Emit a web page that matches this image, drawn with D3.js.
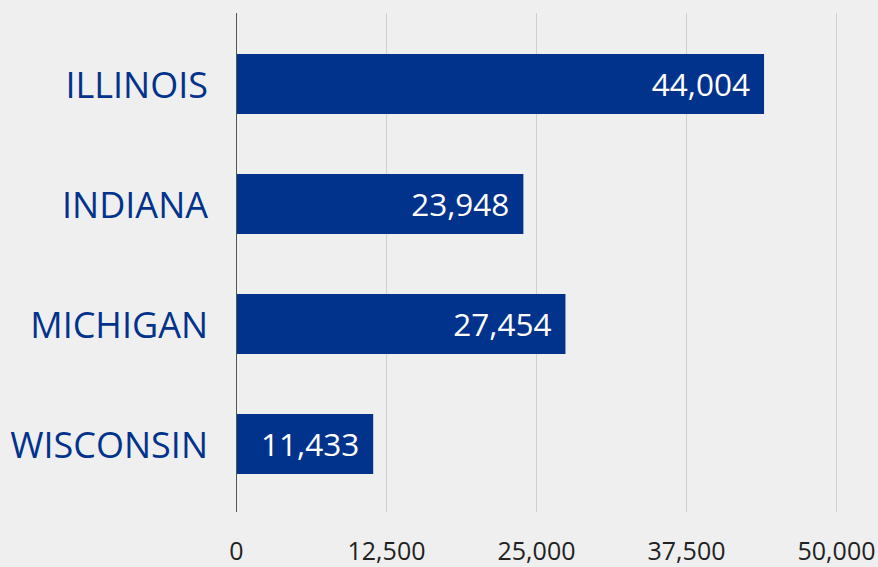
<!DOCTYPE html>
<html>
<head>
<meta charset="utf-8">
<script src="https://cdn.jsdelivr.net/npm/d3@7"></script>
<style>
  html, body { margin: 0; padding: 0; background: #efefef; }
  svg { display: block; }
</style>
</head>
<body>
<div id="chart"></div>
<script>
// data
var states = ["ILLINOIS", "INDIANA", "MICHIGAN", "WISCONSIN"];
var counts = [44004, 23948, 27454, 11433];
var tickValues = [0, 12500, 25000, 37500, 50000];

var W = 878, H = 567;
var blue = "#02338c";
var font = "'Open Sans', 'Noto Sans', sans-serif";

var svg = d3.select("#chart")
  .append("svg")
  .attr("width", W)
  .attr("height", H);

svg.append("rect")
  .attr("width", W)
  .attr("height", H)
  .attr("fill", "#efefef");

var x = d3.scaleLinear().domain([0, 50000]).range([236, 836]);
var y = d3.scaleBand()
  .domain(states)
  .range([24, 504])
  .paddingInner(0.5)
  .paddingOuter(0.25);

// gridlines
svg.append("g")
  .selectAll("line")
  .data(tickValues.slice(1))
  .enter()
  .append("line")
  .attr("x1", function (d) { return x(d) + 0.5; })
  .attr("x2", function (d) { return x(d) + 0.5; })
  .attr("y1", 13)
  .attr("y2", 512)
  .attr("stroke", "#cfcfcf")
  .attr("stroke-width", 1);

// axis line
svg.append("line")
  .attr("x1", x(0) + 0.5)
  .attr("x2", x(0) + 0.5)
  .attr("y1", 13)
  .attr("y2", 512)
  .attr("stroke", "#555")
  .attr("stroke-width", 1);

// x tick labels
var xAxis = svg.append("g")
  .attr("transform", "translate(0,560)")
  .call(d3.axisBottom(x).tickValues(tickValues).tickFormat(d3.format(",")).tickSize(0));
xAxis.select(".domain").remove();
xAxis.selectAll("text")
  .attr("font-family", font)
  .attr("font-size", "25px")
  .attr("fill", "#222")
  .attr("y", 0)
  .attr("dy", 0);

// bars
var rows = states.map(function (s, i) { return { name: s, value: counts[i] }; });

svg.selectAll("rect.bar")
  .data(rows)
  .enter()
  .append("rect")
  .attr("class", "bar")
  .attr("x", x(0) + 1)
  .attr("y", function (d) { return y(d.name); })
  .attr("width", function (d) { return x(d.value) - x(0) - 1; })
  .attr("height", y.bandwidth())
  .attr("fill", blue);

// value labels
svg.selectAll("text.val")
  .data(rows)
  .enter()
  .append("text")
  .attr("class", "val")
  .attr("x", function (d) { return x(d.value) - 14; })
  .attr("y", function (d) { return y(d.name) + y.bandwidth() / 2; })
  .attr("dy", "0.37em")
  .attr("text-anchor", "end")
  .attr("font-family", font)
  .attr("font-size", "31.5px")
  .attr("fill", "#fff")
  .text(function (d) { return d3.format(",")(d.value); });

// category labels
svg.selectAll("text.cat")
  .data(rows)
  .enter()
  .append("text")
  .attr("class", "cat")
  .attr("x", 208)
  .attr("y", function (d) { return y(d.name) + y.bandwidth() / 2; })
  .attr("dy", "0.38em")
  .attr("text-anchor", "end")
  .attr("font-family", font)
  .attr("font-size", "36px")
  .attr("fill", blue)
  .text(function (d) { return d.name; });
</script>
</body>
</html>
